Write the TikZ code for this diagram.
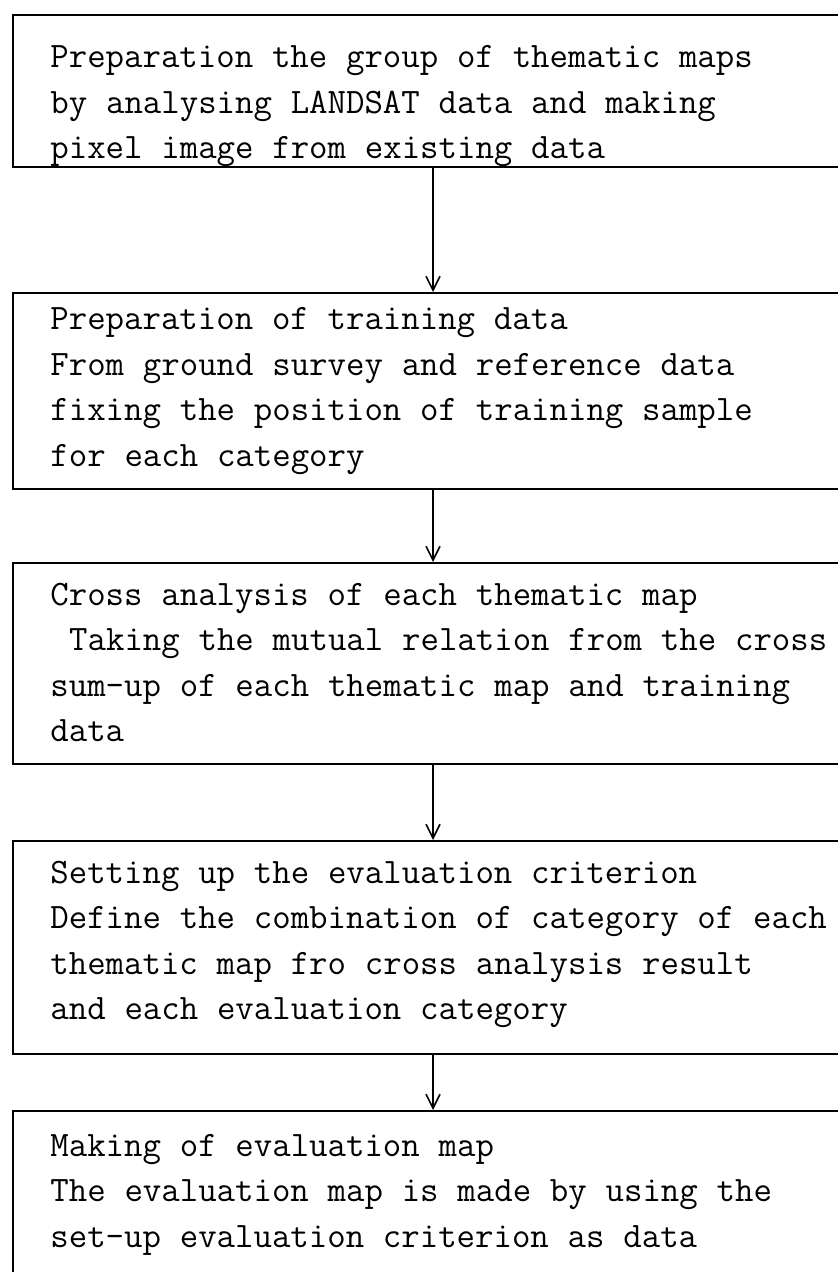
\documentclass[tikz,border=0pt]{standalone}
\usepackage{fontspec}
\usepackage{tikz}
\usetikzlibrary{arrows.meta}

\newcommand{\stagefont}{\fontsize{17.9}{22.75}\selectfont\ttfamily}

\begin{document}
\begin{tikzpicture}[
  x=0.5pt, y=-0.5pt,
  stagebox/.style={draw, line width=0.9pt, inner sep=0pt, anchor=north west, minimum width=424pt, minimum height=#1},
  stagetext/.style={anchor=base west, inner sep=0pt, text width=440pt, align=left, font=\stagefont,
    execute at begin node={\spaceskip=9.4pt\relax}},
  arrow/.style={-{Straight Barb[length=7pt, width=7pt]}, line width=0.8pt}
]
  \useasboundingbox (0,0) rectangle (838,1272);
  \clip (0,0) rectangle (838,1272);

  % Thematic maps
  \node[stagebox=76pt] (b1) at (12,14) {};
  \node[stagetext] (t1) at (50,68) {Preparation the group of thematic maps\\
    by analysing LANDSAT data and making\\
    pixel image from existing data};

  % Training data
  \node[stagebox=98pt] (b2) at (12,292) {};
  \node[stagetext] (t2) at (50,330) {Preparation of training data\\
    From ground survey and reference data\\
    fixing the position of training sample\\
    for each category};

  % Cross analysis
  \node[stagebox=100.5pt] (b3) at (12,562) {};
  \node[stagetext] (t3) at (50,605) {Cross analysis of each thematic map\\
    \ Taking the mutual relation from the cross\\
    sum-up of each thematic map and training\\
    data};

  % Evaluation criterion
  \node[stagebox=106.5pt] (b4) at (12,840) {};
  \node[stagetext] (t4) at (50,883) {Setting up the evaluation criterion\\
    Define the combination of category of each\\
    thematic map fro cross analysis result\\
    and each evaluation category};

  % Evaluation map
  \node[stagebox=100pt] (b5) at (12,1110) {};
  \node[stagetext] (t5) at (50,1156) {Making of evaluation map\\
    The evaluation map is made by using the\\
    set-up evaluation criterion as data};

  % Arrows
  \coordinate (ax) at (433,0);
  \draw[arrow] (b1.south west -| ax) -- (b2.north west -| ax);
  \draw[arrow] (b2.south west -| ax) -- (b3.north west -| ax);
  \draw[arrow] (b3.south west -| ax) -- (b4.north west -| ax);
  \draw[arrow] (b4.south west -| ax) -- (b5.north west -| ax);
\end{tikzpicture}
\end{document}
